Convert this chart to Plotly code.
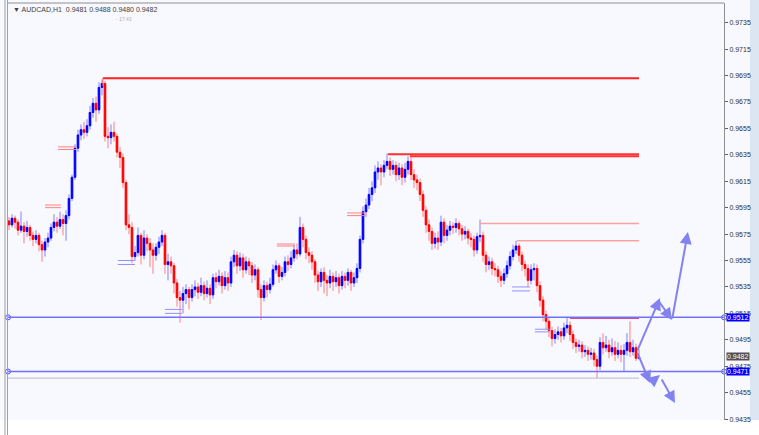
import plotly.graph_objects as go

# ---------------- data (AUDCAD H1) ----------------
first_open = 0.9585
closes = [
    0.9582, 0.9587, 0.9584, 0.9578, 0.9581, 0.9577, 0.9580, 0.9574, 0.9571, 0.9574,
    0.9567, 0.9563, 0.9569, 0.9572, 0.9580, 0.9584, 0.9581, 0.9586, 0.9583, 0.9589,
    0.9602, 0.9618, 0.9640, 0.9650, 0.9654, 0.9652, 0.9657, 0.9667, 0.9674, 0.9669,
    0.9686, 0.9689, 0.9649, 0.9648, 0.9652, 0.9649, 0.9637, 0.9633, 0.9614, 0.9582,
    0.9580, 0.9558, 0.9561, 0.9574, 0.9559, 0.9572, 0.9568, 0.9563, 0.9559, 0.9565,
    0.9569, 0.9574, 0.9552, 0.9554, 0.9551, 0.9538, 0.9527, 0.9525, 0.9530, 0.9533,
    0.9527, 0.9533, 0.9535, 0.9531, 0.9536, 0.9530, 0.9534, 0.9529, 0.9542, 0.9539,
    0.9543, 0.9536, 0.9542, 0.9538, 0.9554, 0.9559, 0.9551, 0.9557, 0.9548, 0.9554,
    0.9551, 0.9544, 0.9548, 0.9533, 0.9527, 0.9536, 0.9533, 0.9537, 0.9548, 0.9551,
    0.9543, 0.9546, 0.9554, 0.9552, 0.9557, 0.9563, 0.9560, 0.9580, 0.9571, 0.9561,
    0.9559, 0.9554, 0.9544, 0.9539, 0.9546, 0.9540, 0.9538, 0.9543, 0.9539, 0.9542,
    0.9536, 0.9543, 0.9540, 0.9546, 0.9538, 0.9542, 0.9549, 0.9571, 0.9592, 0.9597,
    0.9605, 0.9610, 0.9622, 0.9625, 0.9622, 0.9627, 0.9630, 0.9624, 0.9627, 0.9620,
    0.9625, 0.9618, 0.9624, 0.9630, 0.9620, 0.9616, 0.9614, 0.9605, 0.9593, 0.9582,
    0.9577, 0.9568, 0.9572, 0.9569, 0.9584, 0.9574, 0.9578, 0.9581, 0.9580, 0.9583,
    0.9579, 0.9575, 0.9577, 0.9572, 0.9571, 0.9563, 0.9573, 0.9574, 0.9559, 0.9552,
    0.9554, 0.9549, 0.9548, 0.9543, 0.9540, 0.9545, 0.9551, 0.9558, 0.9563, 0.9566,
    0.9559, 0.9552, 0.9549, 0.9540, 0.9548, 0.9549, 0.9536, 0.9525, 0.9514, 0.9509,
    0.9502, 0.9496, 0.9499, 0.9501, 0.9498, 0.9504, 0.9506, 0.9499, 0.9493, 0.9490,
    0.9491, 0.9486, 0.9487, 0.9484, 0.9485, 0.9480, 0.9475, 0.9493, 0.9489, 0.9491,
    0.9486, 0.9489, 0.9484, 0.9487, 0.9484, 0.9487, 0.9493, 0.9486, 0.9489, 0.9481,
    0.9482,
]
highs = [
    0.9588, 0.9590, 0.9589, 0.9586, 0.9592, 0.9584, 0.9585, 0.9582, 0.9577, 0.9578,
    0.9576, 0.9570, 0.9572, 0.9576, 0.9583, 0.9590, 0.9588, 0.9592, 0.9590, 0.9593,
    0.9605, 0.9620, 0.9643, 0.9654, 0.9658, 0.9660, 0.9662, 0.9672, 0.9678, 0.9679,
    0.9690, 0.9692, 0.9691, 0.9656, 0.9658, 0.9660, 0.9651, 0.9641, 0.9636, 0.9616,
    0.9590, 0.9584, 0.9566, 0.9580, 0.9576, 0.9578, 0.9575, 0.9572, 0.9568, 0.9568,
    0.9573, 0.9578, 0.9576, 0.9560, 0.9558, 0.9553, 0.9541, 0.9532, 0.9535, 0.9537,
    0.9535, 0.9537, 0.9540, 0.9538, 0.9542, 0.9539, 0.9540, 0.9537, 0.9545, 0.9546,
    0.9548, 0.9546, 0.9547, 0.9546, 0.9558, 0.9563, 0.9562, 0.9561, 0.9560, 0.9558,
    0.9557, 0.9554, 0.9552, 0.9550, 0.9537, 0.9540, 0.9539, 0.9542, 0.9552, 0.9555,
    0.9553, 0.9550, 0.9558, 0.9559, 0.9562, 0.9567, 0.9568, 0.9588, 0.9583, 0.9574,
    0.9565, 0.9562, 0.9556, 0.9547, 0.9549, 0.9550, 0.9544, 0.9548, 0.9546, 0.9547,
    0.9545, 0.9547, 0.9546, 0.9549, 0.9548, 0.9546, 0.9553, 0.9574, 0.9596, 0.9602,
    0.9610, 0.9615, 0.9627, 0.9630, 0.9628, 0.9631, 0.9636, 0.9633, 0.9631, 0.9630,
    0.9629, 0.9628, 0.9629, 0.9634, 0.9635, 0.9624, 0.9620, 0.9617, 0.9608, 0.9596,
    0.9586, 0.9580, 0.9576, 0.9577, 0.9589, 0.9587, 0.9582, 0.9585, 0.9584, 0.9587,
    0.9585, 0.9582, 0.9581, 0.9579, 0.9576, 0.9574, 0.9576, 0.9586, 0.9577, 0.9562,
    0.9558, 0.9557, 0.9553, 0.9551, 0.9547, 0.9549, 0.9555, 0.9562, 0.9567, 0.9570,
    0.9568, 0.9562, 0.9555, 0.9552, 0.9552, 0.9553, 0.9552, 0.9539, 0.9528, 0.9517,
    0.9512, 0.9505, 0.9503, 0.9505, 0.9504, 0.9508, 0.9512, 0.9509, 0.9502, 0.9496,
    0.9495, 0.9494, 0.9491, 0.9490, 0.9489, 0.9488, 0.9483, 0.9497, 0.9500, 0.9498,
    0.9495, 0.9496, 0.9494, 0.9493, 0.9491, 0.9492, 0.9500, 0.9509, 0.9495, 0.9492,
    0.9488,
]
lows = [
    0.9578, 0.9580, 0.9579, 0.9574, 0.9576, 0.9568, 0.9573, 0.9570, 0.9566, 0.9568,
    0.9562, 0.9554, 0.9558, 0.9565, 0.9570, 0.9577, 0.9576, 0.9579, 0.9574, 0.9570,
    0.9586, 0.9600, 0.9616, 0.9637, 0.9646, 0.9647, 0.9649, 0.9654, 0.9663, 0.9660,
    0.9666, 0.9680, 0.9645, 0.9640, 0.9643, 0.9645, 0.9633, 0.9625, 0.9610, 0.9578,
    0.9575, 0.9553, 0.9555, 0.9558, 0.9552, 0.9556, 0.9562, 0.9550, 0.9545, 0.9555,
    0.9560, 0.9566, 0.9545, 0.9540, 0.9545, 0.9530, 0.9520, 0.9508, 0.9515, 0.9522,
    0.9518, 0.9524, 0.9528, 0.9526, 0.9528, 0.9525, 0.9527, 0.9522, 0.9526, 0.9534,
    0.9536, 0.9530, 0.9533, 0.9532, 0.9535, 0.9550, 0.9545, 0.9547, 0.9542, 0.9545,
    0.9544, 0.9538, 0.9540, 0.9527, 0.9510, 0.9524, 0.9527, 0.9530, 0.9535, 0.9545,
    0.9538, 0.9540, 0.9543, 0.9547, 0.9549, 0.9554, 0.9556, 0.9558, 0.9565, 0.9556,
    0.9553, 0.9548, 0.9538, 0.9532, 0.9535, 0.9530, 0.9528, 0.9534, 0.9532, 0.9535,
    0.9530, 0.9533, 0.9534, 0.9536, 0.9532, 0.9535, 0.9538, 0.9546, 0.9568, 0.9588,
    0.9594, 0.9600, 0.9606, 0.9616, 0.9612, 0.9618, 0.9624, 0.9619, 0.9620, 0.9615,
    0.9616, 0.9612, 0.9614, 0.9620, 0.9616, 0.9610, 0.9608, 0.9600, 0.9588, 0.9576,
    0.9570, 0.9563, 0.9564, 0.9563, 0.9566, 0.9568, 0.9570, 0.9574, 0.9575, 0.9576,
    0.9574, 0.9570, 0.9571, 0.9567, 0.9565, 0.9558, 0.9560, 0.9569, 0.9554, 0.9546,
    0.9548, 0.9544, 0.9543, 0.9538, 0.9535, 0.9537, 0.9542, 0.9548, 0.9555, 0.9560,
    0.9554, 0.9547, 0.9543, 0.9535, 0.9537, 0.9540, 0.9531, 0.9520, 0.9509, 0.9503,
    0.9497, 0.9490, 0.9492, 0.9495, 0.9493, 0.9495, 0.9500, 0.9494, 0.9488, 0.9485,
    0.9486, 0.9481, 0.9482, 0.9479, 0.9480, 0.9475, 0.9466, 0.9472, 0.9484, 0.9486,
    0.9481, 0.9483, 0.9479, 0.9481, 0.9478, 0.9471, 0.9483, 0.9482, 0.9483, 0.9479,
    0.9480,
]
opens = [first_open] + closes[:-1]
bars = list(range(len(closes)))

# y-axis tick labels
tick_values = [0.9435, 0.9455, 0.9475, 0.9495, 0.9515, 0.9535, 0.9555, 0.9575,
               0.9595, 0.9615, 0.9635, 0.9655, 0.9675, 0.9695, 0.9715, 0.9735]
tick_labels = ["%.4f" % v for v in tick_values]

# horizontal levels drawn on the chart: (price, from bar, to bar, colour, width)
last_bar = len(closes) - 1
red_levels = [
    (0.9693, 31.3, last_bar, "#FF2020", 2),
    (0.96355, 126.3, last_bar, "#FF3030", 2),
    (0.9634, 133.7, last_bar, "#FF3030", 2),
    (0.9583, 157.0, last_bar, "#FFA0A0", 1.5),
    (0.9570, 169.3, last_bar, "#FFA0A0", 1.5),
    (0.95115, 187.0, last_bar, "#D0106A", 1.5),
]
blue_levels = [0.9512, 0.9471]
blue_level_labels = ["0.9512", "0.9471"]
low_level = 0.9466
last_price = 0.9482

# small triple tick marks (price, from bar, to bar, colour)
tick_marks = [
    (0.9641, 16.3, 22.3, "#FF8080"), (0.9639, 16.3, 22.3, "#FF8080"),
    (0.9597, 12.0, 17.3, "#FF8080"), (0.9595, 12.0, 17.3, "#FF8080"),
    (0.95675, 89.3, 95.3, "#FF8080"), (0.9566, 89.3, 95.3, "#FF8080"),
    (0.9591, 112.7, 118.7, "#FF8080"), (0.9589, 112.7, 118.7, "#FF8080"),
    (0.9555, 36.3, 42.0, "#9090FF"), (0.9552, 36.3, 42.0, "#9090FF"),
    (0.9518, 52.0, 57.7, "#9090FF"), (0.9515, 52.0, 57.7, "#9090FF"),
    (0.9535, 167.7, 173.7, "#9090FF"), (0.9532, 167.7, 173.7, "#9090FF"),
    (0.9503, 175.3, 180.3, "#9090FF"), (0.9501, 175.3, 180.3, "#9090FF"),
]

# projected path arrows: (from bar, from price, to bar, to price)
arrows = [
    (209.3, 0.9486, 217.0, 0.95266),
    (216.3, 0.95251, 221.0, 0.95100),
    (221.0, 0.95100, 226.3, 0.95766),
    (209.3, 0.9486, 213.7, 0.94623),
    (213.7, 0.94623, 217.0, 0.94683),
    (217.3, 0.94661, 222.0, 0.94471),
]

X0, X1 = -0.333, 238.333
Y0, Y1 = 0.94343, 0.97499

fig = go.Figure()

# light wicks
fig.add_trace(go.Candlestick(
    x=bars, open=opens, high=highs, low=lows, close=closes,
    increasing=dict(line=dict(color="#8080FF", width=1), fillcolor="#8080FF"),
    decreasing=dict(line=dict(color="#FF8080", width=1), fillcolor="#FF8080"),
    whiskerwidth=0, hoverinfo="skip", showlegend=False,
))
# solid bodies
body_hi = [max(o, c) for o, c in zip(opens, closes)]
body_lo = [min(o, c) for o, c in zip(opens, closes)]
fig.add_trace(go.Candlestick(
    x=bars, open=opens, high=body_hi, low=body_lo, close=closes,
    increasing=dict(line=dict(color="#0000FF", width=1), fillcolor="#0000FF"),
    decreasing=dict(line=dict(color="#FF0000", width=1), fillcolor="#FF0000"),
    whiskerwidth=0, hoverinfo="skip", showlegend=False,
))

shapes = []
for p, a, b, col, w in red_levels:
    shapes.append(dict(type="line", xref="x", yref="y", x0=a, x1=b, y0=p, y1=p,
                       line=dict(color=col, width=w)))
shapes.append(dict(type="line", xref="x", yref="y", x0=31.3, x1=31.3, y0=0.9693, y1=0.9687,
                   line=dict(color="#FF6060", width=1)))
for p, a, b, col in tick_marks:
    shapes.append(dict(type="line", xref="x", yref="y", x0=a, x1=b, y0=p, y1=p,
                       line=dict(color=col, width=1)))
for p in blue_levels:
    shapes.append(dict(type="line", xref="x", yref="y", x0=X0, x1=X1, y0=p, y1=p,
                       line=dict(color="#7070FF", width=1.5)))
shapes.append(dict(type="line", xref="x", yref="y", x0=X0, x1=last_bar, y0=low_level, y1=low_level,
                   line=dict(color="#B8B8D8", width=1)))
# frame
shapes += [
    dict(type="line", xref="paper", yref="paper", x0=0, x1=1, y0=1, y1=1,
         line=dict(color="#909090", width=1)),
    dict(type="line", xref="paper", yref="paper", x0=-0.0042, x1=-0.0042, y0=-0.04, y1=1.01,
         line=dict(color="#A0A0A0", width=1)),
    dict(type="line", xref="paper", yref="paper", x0=-0.0007, x1=-0.0007, y0=-0.04, y1=1.01,
         line=dict(color="#A0A0A0", width=1)),
    dict(type="rect", xref="paper", yref="paper", x0=1.0363, x1=1.06, y0=0, y1=1.01,
         fillcolor="#DCE6F2", line=dict(width=0), layer="below"),
    dict(type="rect", xref="paper", yref="paper", x0=-0.02, x1=1.06, y0=-0.04, y1=0,
         fillcolor="#FFFFFF", line=dict(width=0), layer="below"),
]

annotations = []
for a, pa, b, pb in arrows:
    annotations.append(dict(x=b, y=pb, ax=a, ay=pa, xref="x", yref="y", axref="x", ayref="y",
                            showarrow=True, arrowhead=2, arrowsize=1.2, arrowwidth=2,
                            arrowcolor="#8282F0", text=""))
for p, lab in zip(blue_levels, blue_level_labels):
    annotations.append(dict(x=1.0, y=p, xref="paper", yref="y", xanchor="left", yanchor="middle",
                            xshift=2, text=lab, showarrow=False, bgcolor="#0000FF",
                            font=dict(family="Liberation Sans", size=7, color="#FFFFFF"),
                            borderpad=0))
annotations.append(dict(x=1.0, y=last_price, xref="paper", yref="y", xanchor="left", yanchor="middle",
                        xshift=2, text="%.4f" % last_price, showarrow=False, bgcolor="#505050",
                        font=dict(family="Liberation Sans", size=7, color="#FFFFFF"), borderpad=0))
annotations.append(dict(x=0, y=1, xref="paper", yref="paper", xanchor="left", yanchor="top",
                        xshift=3, yshift=-1, showarrow=False,
                        text="▼ AUDCAD,H1  0.9481 0.9488 0.9480 0.9482",
                        font=dict(family="Liberation Sans", size=7, color="#404040")))
annotations.append(dict(x=0.148, y=1, xref="paper", yref="paper", xanchor="left", yanchor="top",
                        yshift=-11, showarrow=False, text="- 17:43",
                        font=dict(family="Liberation Sans", size=5, color="#B0B0B0")))

# circle handles at ends of the blue levels
fig.add_trace(go.Scatter(
    x=[X0, X1, X0, X1], y=[blue_levels[0], blue_levels[0], blue_levels[1], blue_levels[1]],
    mode="markers", marker=dict(symbol="circle-open", size=5, color="#5050FF", line=dict(width=1)),
    cliponaxis=False, hoverinfo="skip", showlegend=False,
))

fig.update_layout(
    width=759, height=435, autosize=False,
    margin=dict(l=8, r=35, t=3, b=15, pad=0),
    paper_bgcolor="#F8F8FF", plot_bgcolor="#F8F8FF",
    showlegend=False, shapes=shapes, annotations=annotations,
    xaxis=dict(range=[X0, X1], visible=False, rangeslider=dict(visible=False), fixedrange=True),
    yaxis=dict(range=[Y0, Y1], side="right", showgrid=False, zeroline=False,
               showline=True, linecolor="#909090", linewidth=1,
               ticks="outside", ticklen=3, tickcolor="#606060",
               tickvals=tick_values, ticktext=tick_labels,
               tickfont=dict(family="Liberation Sans", size=7, color="#303030")),
)

fig.write_html("out.html", config={"displayModeBar": False},
               post_script="document.body.style.margin='0px';document.body.style.overflow='hidden';")
